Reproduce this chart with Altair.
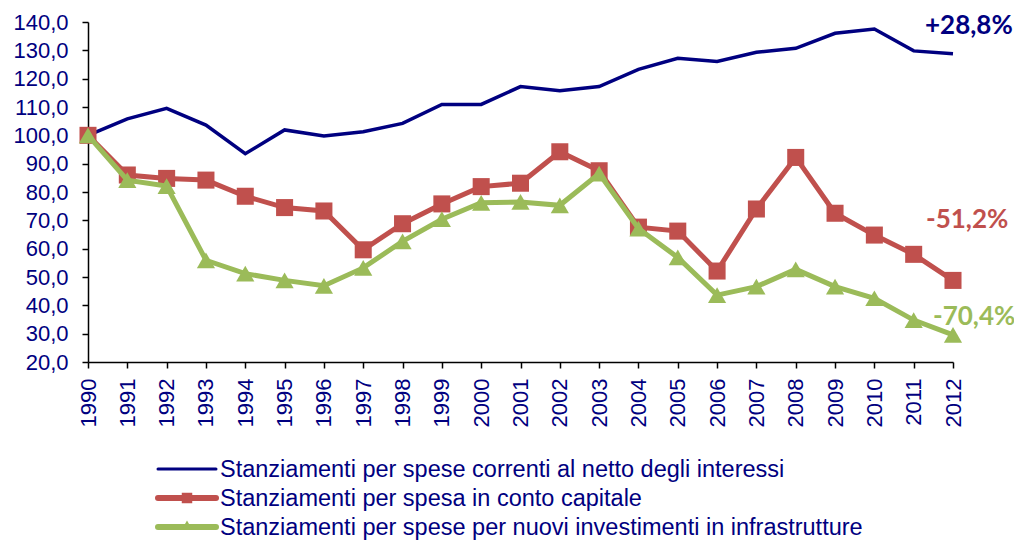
import altair as alt
import pandas as pd

years = list(range(1990, 2013))
correnti = [100.0, 105.8, 109.5, 103.6, 93.5, 101.9, 99.8, 101.3, 104.2, 110.9, 110.9, 117.2,
            115.7, 117.2, 123.3, 127.2, 126.1, 129.3, 130.7, 136.0, 137.5, 129.8, 128.8]
capitale = [100.0, 86.0, 84.8, 84.2, 78.5, 74.5, 73.3, 59.6, 68.8, 75.8, 81.9, 83.1,
            94.2, 87.5, 67.6, 66.2, 52.1, 74.0, 92.2, 72.5, 64.8, 58.0, 48.8]
infrastrutture = [100.0, 84.2, 82.1, 55.9, 51.2, 48.8, 46.9, 53.2, 62.6, 70.4, 76.2, 76.5,
                  75.3, 86.5, 67.1, 56.9, 43.6, 46.6, 52.7, 46.6, 42.5, 34.8, 29.6]

series_names = [
    "Stanziamenti per spese correnti al netto degli interessi",
    "Stanziamenti per spesa in conto capitale",
    "Stanziamenti per spese per nuovi investimenti in infrastrutture",
]
series_colors = ["#000080", "#C0504D", "#9BBB59"]
y_ticks = list(range(20, 141, 10))

NAVY = "#000080"
FONT = "Liberation Sans"


def frame(vals):
    return pd.DataFrame({"year": years, "value": vals})


x_enc = alt.X("year:Q",
              scale=alt.Scale(domain=[1990, 2012], nice=False, zero=False),
              axis=alt.Axis(values=years, format="d", labelAngle=270, labelAlign="right",
                            labelBaseline="middle", labelPadding=10, labelFontSize=22,
                            labelFont=FONT, labelColor=NAVY, tickSize=6, tickColor="black",
                            domainColor="black", domainWidth=1.5, tickWidth=1.5,
                            grid=False, title=None, labelOverlap=False, labelFlush=False))
y_enc = alt.Y("value:Q",
              scale=alt.Scale(domain=[20, 140], nice=False, zero=False),
              axis=alt.Axis(values=y_ticks,
                            labelExpr="replace(format(datum.value, '.1f'), '.', ',')",
                            labelFontSize=22, labelFont=FONT, labelColor=NAVY,
                            labelPadding=14, tickSize=6, tickColor="black",
                            domainColor="black", domainWidth=1.5, tickWidth=1.5,
                            grid=False, title=None, labelOverlap=False, labelFlush=False))

blue = alt.Chart(frame(correnti)).mark_line(color=series_colors[0], strokeWidth=3.5).encode(x=x_enc, y=y_enc)
red_l = alt.Chart(frame(capitale)).mark_line(color=series_colors[1], strokeWidth=5).encode(x=x_enc, y=y_enc)
red_p = alt.Chart(frame(capitale)).mark_point(shape="square", filled=True, opacity=1,
                                               color=series_colors[1], size=290).encode(x=x_enc, y=y_enc)
green_l = alt.Chart(frame(infrastrutture)).mark_line(color=series_colors[2], strokeWidth=5).encode(x=x_enc, y=y_enc)
green_p = alt.Chart(frame(infrastrutture)).mark_point(shape="triangle-up", filled=True, opacity=1,
                                                   color=series_colors[2], size=330).encode(x=x_enc, y=y_enc)


def change_label(vals):
    return ("%+.1f%%" % (vals[-1] - vals[0])).replace(".", ",")


def annotation(vals, color, dx, dy):
    df = pd.DataFrame({"year": [years[-1]], "value": [vals[-1]], "label": [change_label(vals)]})
    return alt.Chart(df).mark_text(align="left", baseline="middle", font="Lato", fontWeight="bold",
                                   fontSize=26, color=color, dx=dx, dy=dy).encode(
        x=x_enc, y=y_enc, text="label:N")


ann = [
    annotation(correnti, series_colors[0], -28, -28),
    annotation(capitale, series_colors[1], -27, -60),
    annotation(infrastrutture, series_colors[2], -20, -18),
]

one = pd.DataFrame({"k": [0]})
legend_rows = [447, 476, 505]
legend_widths = [3, 6, 6]
legend_layers = []
for i, (name, col) in enumerate(zip(series_names, series_colors)):
    ly = legend_rows[i]
    legend_layers.append(alt.Chart(one).mark_rule(color=col, strokeWidth=legend_widths[i], strokeCap="round").encode(
        x=alt.value(70), x2=alt.value(128), y=alt.value(ly)))
    if i == 1:
        legend_layers.append(alt.Chart(one).mark_point(shape="square", filled=True, opacity=1, color=col, size=110).encode(
            x=alt.value(99), y=alt.value(ly)))
    if i == 2:
        legend_layers.append(alt.Chart(one).mark_point(shape="triangle-up", filled=True, opacity=1, color=col, size=110).encode(
            x=alt.value(99), y=alt.value(ly - 2)))
    legend_layers.append(alt.Chart(one).mark_text(align="left", baseline="middle", font=FONT, fontSize=23.5,
                                                  color=NAVY).encode(
        x=alt.value(132), y=alt.value(ly + 1), text=alt.value(name)))

chart = alt.layer(blue, red_l, red_p, green_l, green_p, *ann, *legend_layers).properties(
    width=865, height=340,
    autosize=alt.AutoSizeParams(type="none"),
    padding={"left": 80, "top": 14, "right": 61, "bottom": 180},
).configure(background="white").configure_view(stroke=None, strokeWidth=0)

chart.save("out.html", embed_options={"renderer": "svg", "actions": False})
